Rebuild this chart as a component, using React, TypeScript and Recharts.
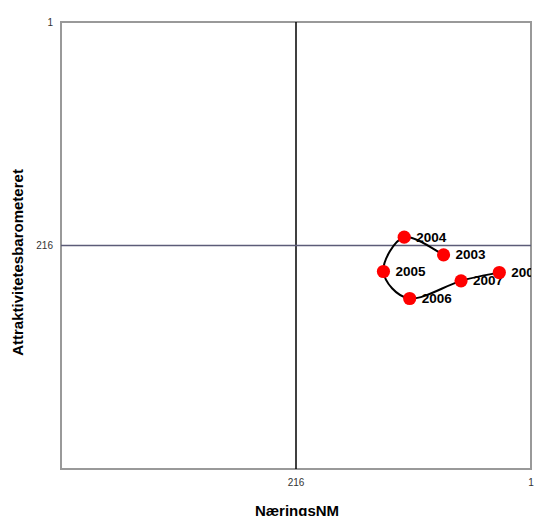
import React from "react";
import {
  ScatterChart,
  Scatter,
  XAxis,
  YAxis,
  ReferenceLine,
  ReferenceArea,
} from "recharts";

const years = ["2003", "2004", "2005", "2006", "2007", "2008"];
const naeringsNM = [81, 117, 136, 112, 65, 30];
const attraktivitet = [225, 208, 241, 267, 250, 242];
const axisTicks = [1, 216];

const data = years.map((year, i) => ({
  year,
  x: naeringsNM[i],
  y: attraktivitet[i],
}));

const font = "'Liberation Sans', Arial, sans-serif";

// Excel-style smoothed line (uniform Catmull-Rom)
const catmullRom = (context: any) => {
  let pts: number[][] = [];
  return {
    areaStart() {},
    areaEnd() {},
    lineStart() {
      pts = [];
    },
    point(x: number, y: number) {
      pts.push([+x, +y]);
    },
    lineEnd() {
      if (!pts.length) return;
      context.moveTo(pts[0][0], pts[0][1]);
      for (let i = 0; i < pts.length - 1; i++) {
        const p0 = pts[Math.max(i - 1, 0)];
        const p1 = pts[i];
        const p2 = pts[i + 1];
        const p3 = pts[Math.min(i + 2, pts.length - 1)];
        context.bezierCurveTo(
          p1[0] + (p2[0] - p0[0]) / 6,
          p1[1] + (p2[1] - p0[1]) / 6,
          p2[0] - (p3[0] - p1[0]) / 6,
          p2[1] - (p3[1] - p1[1]) / 6,
          p2[0],
          p2[1]
        );
      }
    },
  };
};

const Dot = (props: any) => {
  const { cx, cy, payload } = props;
  return (
    <g>
      <circle cx={cx} cy={cy} r={6.6} fill="#ff0000" />
      <text
        x={cx + 12}
        y={cy}
        dominantBaseline="central"
        fontFamily={font}
        fontWeight="bold"
        fontSize={13.5}
        fill="#000"
      >
        {payload.year}
      </text>
    </g>
  );
};

export default function App() {
  return (
    <div style={{ position: "absolute", left: 0, top: 0 }}>
      <ScatterChart
        width={538}
        height={516}
        margin={{ top: 22, right: 7, left: 0, bottom: 0 }}
      >
        <ReferenceArea
          x1={1}
          x2={431}
          y1={1}
          y2={431}
          fill="none"
          stroke="#999"
          strokeWidth={2}
          ifOverflow="visible"
        />
        <XAxis
          type="number"
          dataKey="x"
          domain={[1, 431]}
          reversed
          ticks={axisTicks}
          interval={0}
          allowDataOverflow
          axisLine={false}
          tickLine={false}
          tickSize={8}
          tickMargin={2}
          height={47}
          tick={{ fontSize: 10, fill: "#333", fontFamily: font }}
          label={{
            content: ({ viewBox }: any) => (
              <text
                x={viewBox.x + viewBox.width / 2 + 1}
                y={viewBox.y + 41}
                textAnchor="middle"
                dominantBaseline="central"
                fontFamily={font}
                fontWeight="bold"
                fontSize={15}
                fill="#000"
              >
                NæringsNM
              </text>
            ),
          }}
        />
        <YAxis
          type="number"
          dataKey="y"
          domain={[1, 431]}
          reversed
          ticks={axisTicks}
          interval={0}
          allowDataOverflow
          axisLine={false}
          tickLine={false}
          tickSize={6}
          tickMargin={2}
          width={61}
          tick={{ fontSize: 10, fill: "#333", fontFamily: font }}
          label={{
            content: ({ viewBox }: any) => {
              const cx = viewBox.x + 17;
              const cy = viewBox.y + viewBox.height / 2 + 17;
              return (
                <text
                  x={cx}
                  y={cy}
                  transform={`rotate(-90 ${cx} ${cy})`}
                  textAnchor="middle"
                  dominantBaseline="central"
                  fontFamily={font}
                  fontWeight="bold"
                  fontSize={15}
                  fill="#000"
                >
                  Attraktivitetesbarometeret
                </text>
              );
            },
          }}
        />
        <ReferenceLine x={216} stroke="#000" strokeWidth={1.5} />
        <ReferenceLine y={216} stroke="#5c5c78" strokeWidth={1.6} />
        <Scatter
          data={data}
          fill="#ff0000"
          line={{ stroke: "#000", strokeWidth: 2 }}
          lineJointType={catmullRom as any}
          shape={Dot}
          isAnimationActive={false}
        />
      </ScatterChart>
    </div>
  );
}
